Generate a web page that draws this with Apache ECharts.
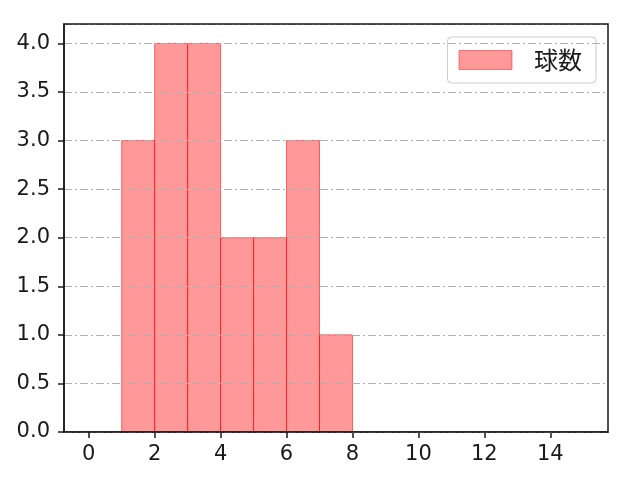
<!DOCTYPE html>
<html><head><meta charset="utf-8">
<script src="https://cdn.jsdelivr.net/npm/echarts@6/dist/echarts.min.js"></script>
<style>html,body{margin:0;padding:0;background:#fff}#c{width:640px;height:480px}</style>
</head><body><div id="c"></div>
<script>
const binStarts = [1, 2, 3, 4, 5, 6, 7];
const binWidth = 1;
const counts = [3, 4, 4, 2, 2, 3, 1];
const seriesName = '球数';
const xTicks = [0, 2, 4, 6, 8, 10, 12, 14];

const numFont = 'DejaVu Sans';
const cjkFont = 'Noto Sans CJK JP';
const chart = echarts.init(document.getElementById('c'), null, {renderer: 'canvas'});
const data = binStarts.map((s, i) => [s, s + binWidth, counts[i]]);
chart.setOption({
  animation: false,
  backgroundColor: '#fff',
  grid: {left: 64, right: 32, top: 24, bottom: 48, show: true, borderColor: '#1a1a1a', borderWidth: 1.5, backgroundColor: 'transparent', z: 5},
  legend: {
    data: [{name: seriesName, icon: 'rect'}],
    right: 44, top: 37, orient: 'vertical',
    padding: [11, 14, 11, 11],
    itemWidth: 53, itemHeight: 19,
    backgroundColor: 'rgba(255,255,255,0.8)', borderColor: '#cccccc', borderWidth: 1, borderRadius: 4,
    textStyle: {fontFamily: cjkFont, fontSize: 24, color: '#1a1a1a', padding: [0, 0, 0, 17]},
    itemStyle: {color: 'rgba(255,0,0,0.4)', borderColor: 'rgba(255,0,0,0.45)', borderWidth: 1}
  },
  xAxis: {
    type: 'value', min: -0.75, max: 15.75,
    axisLine: {show: true, onZero: false, lineStyle: {color: '#1a1a1a', width: 1.5}},
    axisTick: {show: true, customValues: xTicks, length: 6, lineStyle: {color: '#1a1a1a', width: 1.5}},
    axisLabel: {customValues: xTicks, fontFamily: numFont, fontSize: 21, color: '#1a1a1a', margin: 12},
    splitLine: {show: false}
  },
  yAxis: {
    type: 'value', min: 0, max: 4.2, interval: 0.5, z: 4,
    axisLine: {show: true, onZero: false, lineStyle: {color: '#1a1a1a', width: 1.5}},
    axisTick: {show: true, length: 6, lineStyle: {color: '#1a1a1a', width: 1.5}},
    axisLabel: {showMaxLabel: false, fontFamily: numFont, fontSize: 21, color: '#1a1a1a', margin: 14,
      formatter: v => v.toFixed(1)},
    splitLine: {show: true, lineStyle: {color: '#b0b0b0', width: 1, type: [8, 3, 2, 3]}}
  },
  series: [{
    name: seriesName, type: 'custom', z: 1,
    itemStyle: {color: 'rgba(255,0,0,0.4)'},
    renderItem: function (params, api) {
      const p0 = api.coord([api.value(0), api.value(2)]);
      const p1 = api.coord([api.value(1), 0]);
      return {
        type: 'rect',
        shape: {x: p0[0], y: p0[1], width: p1[0] - p0[0], height: p1[1] - p0[1]},
        style: {fill: 'rgba(255,0,0,0.4)', stroke: 'rgba(255,0,0,0.55)', lineWidth: 1}
      };
    },
    encode: {x: [0, 1], y: 2},
    data: data
  }]
});
</script></body></html>
